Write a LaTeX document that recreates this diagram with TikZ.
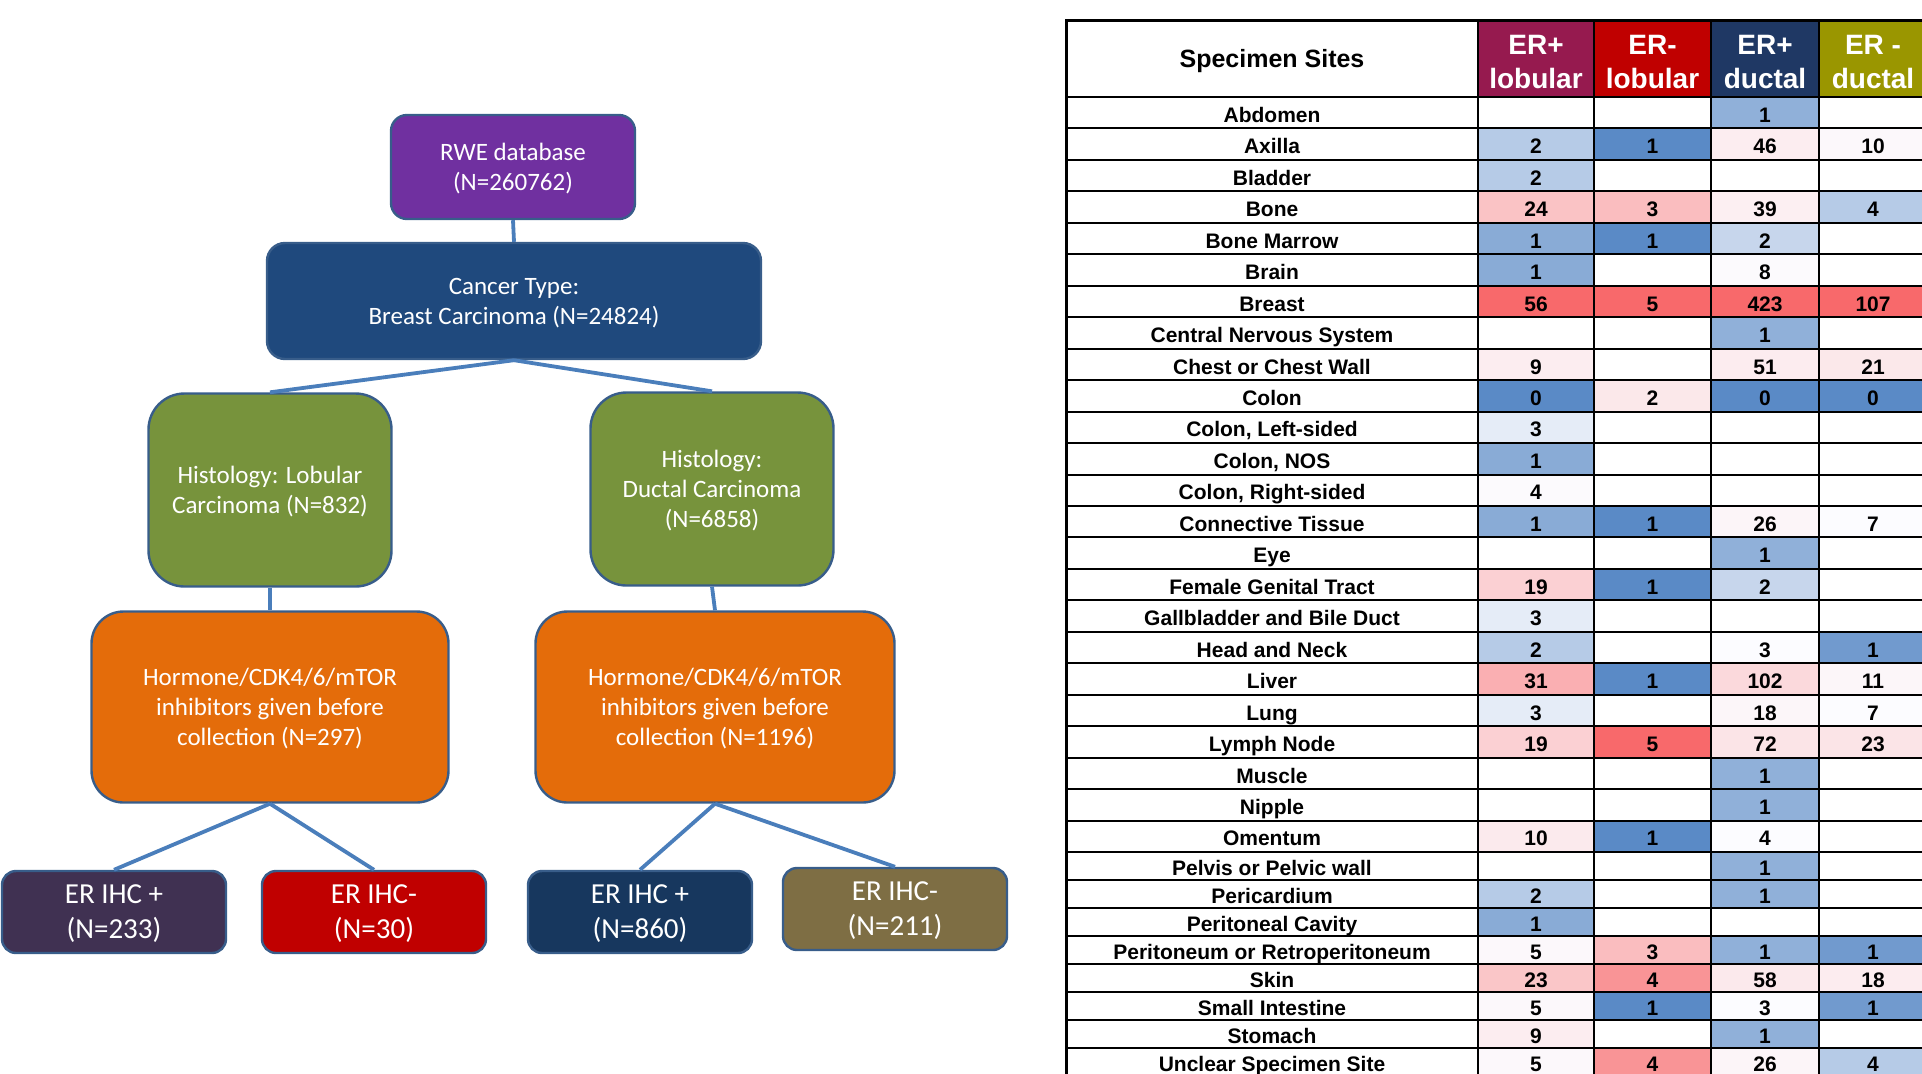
\documentclass[tikz,border=0pt]{standalone}
\usepackage{fontspec}
\setmainfont{Carlito}
\newfontfamily\tabfont{Liberation Sans}
\definecolor{rwec}{HTML}{7030A0}
\definecolor{cancerc}{HTML}{1F497D}
\definecolor{histc}{HTML}{77933C}
\definecolor{orangec}{HTML}{E46C0A}
\definecolor{erposA}{HTML}{403152}
\definecolor{ernegA}{HTML}{C00000}
\definecolor{erposB}{HTML}{17375E}
\definecolor{ernegB}{HTML}{7E6E44}
\definecolor{bordc}{HTML}{385D8A}
\definecolor{linec}{HTML}{4A7EBB}
\definecolor{hA}{HTML}{961A4F}
\definecolor{hB}{HTML}{C00000}
\definecolor{hC}{HTML}{1F3864}
\definecolor{hD}{HTML}{9A9600}
\definecolor{xb}{HTML}{5A8AC6}
\definecolor{xw}{HTML}{FCFCFF}
\definecolor{xr}{HTML}{F8696B}
\def\nocell{-}

\begin{document}
\begin{tikzpicture}[x=0.5pt,y=-0.5pt,
  main box/.style={draw=bordc,line width=1.2pt,text=white,align=center,text depth=-1pt,font=\fontsize{12.5}{15}\selectfont},
  er box/.style={main box,rounded corners=7pt,minimum width=112pt,minimum height=41pt,font=\fontsize{14.5}{17.5}\selectfont},
  link/.style={draw=linec,line width=1.9pt},
  cell/.style={inner sep=0pt,text height=7.6pt,text depth=2pt,yshift=-2pt,font=\tabfont\bfseries\fontsize{10.5}{12}\selectfont},
  hdr/.style={inner sep=0pt,align=center,font=\tabfont\bfseries\fontsize{14}{17}\selectfont},
  grid line/.style={line width=1pt}]

  \useasboundingbox (0,0) rectangle (1922,1073);
  \clip (0,0) rectangle (1922,1073);

  \node[main box,fill=rwec,rounded corners=8pt,minimum width=122pt,minimum height=52pt] (1) at (513,167) {RWE database\\(N=260762)};
  \node[main box,fill=cancerc,rounded corners=9pt,minimum width=247pt,minimum height=58pt] (2) at (514,301) {Cancer Type:\\Breast Carcinoma (N=24824)};
  \node[main box,fill=histc,rounded corners=18pt,minimum width=121.5pt,minimum height=96.5pt] (3) at (270,490) {Histology: Lobular\\Carcinoma (N=832)};
  \node[main box,fill=histc,rounded corners=18pt,minimum width=121.5pt,minimum height=96.5pt] (4) at (712,489) {Histology:\\Ductal Carcinoma\\(N=6858)};
  \node[main box,fill=orangec,rounded corners=16pt,minimum width=178.5pt,minimum height=95.5pt] (5) at (270,707) {Hormone/CDK4/6/mTOR\\inhibitors given before\\collection (N=297)};
  \node[main box,fill=orangec,rounded corners=16pt,minimum width=179.5pt,minimum height=95.5pt] (6) at (715,707) {Hormone/CDK4/6/mTOR\\inhibitors given before\\collection (N=1196)};
  \node[er box,fill=erposA] (7) at (114,912) {ER IHC +\\(N=233)};
  \node[er box,fill=ernegA] (8) at (374,912) {ER IHC-\\(N=30)};
  \node[er box,fill=erposB] (9) at (640,912) {ER IHC +\\(N=860)};
  \node[er box,fill=ernegB] (10) at (895,909) {ER IHC-\\(N=211)};

  \path[link]
    (1.south) edge (2.north)
    (2.south) edge (3.north)
    (2.south) edge (4.north)
    (3.south) edge (5.north)
    (4.south) edge (6.north)
    (5.south) edge (7.north)
    (5.south) edge (8.north)
    (6.south) edge (9.north)
    (6.south) edge (10.north);

  \node[hdr,font=\tabfont\bfseries\fontsize{12.5}{15}\selectfont] (sites) at (1272,61) {Specimen Sites};
  \foreach \xa/\xb/\hc/\htxt [count=\k] in {1478/1594/hA/{ER+\\lobular},1594/1711/hB/{ER-\\lobular},1711/1819/hC/{ER+\\ductal},1819/1927/hD/{ER -\\ductal}}{
    \fill[\hc] (\xa,20) rectangle (\xb,97);
    \node[hdr,text=white] (h\k) at ({(\xa+\xb)/2},61.5) {\htxt};
  }

  \foreach \site/\va/\vb/\vc/\vd [count=\row] in {
    Abdomen/-/-/1/-,
    Axilla/2/1/46/10,
    Bladder/2/-/-/-,
    Bone/24/3/39/4,
    Bone Marrow/1/1/2/-,
    Brain/1/-/8/-,
    Breast/56/5/423/107,
    Central Nervous System/-/-/1/-,
    Chest or Chest Wall/9/-/51/21,
    Colon/0/2/0/0,
    {Colon, Left-sided}/3/-/-/-,
    {Colon, NOS}/1/-/-/-,
    {Colon, Right-sided}/4/-/-/-,
    Connective Tissue/1/1/26/7,
    Eye/-/-/1/-,
    Female Genital Tract/19/1/2/-,
    Gallbladder and Bile Duct/3/-/-/-,
    Head and Neck/2/-/3/1,
    Liver/31/1/102/11,
    Lung/3/-/18/7,
    Lymph Node/19/5/72/23,
    Muscle/-/-/1/-,
    Nipple/-/-/1/-,
    Omentum/10/1/4/-,
    Pelvis or Pelvic wall/-/-/1/-,
    Pericardium/2/-/1/-,
    Peritoneal Cavity/1/-/-/-,
    Peritoneum or Retroperitoneum/5/3/1/1,
    Skin/23/4/58/18,
    Small Intestine/5/1/3/1,
    Stomach/9/-/1/-,
    Unclear Specimen Site/5/4/26/4}{
    \pgfmathsetmacro\yt{\row<25 ? 97+(\row-1)*31.46 : 852+(\row-25)*28}
    \pgfmathsetmacro\yb{\row<25 ? \yt+31.46 : \yt+28}
    \node[cell] (s\row) at (1272,{(\yt+\yb)/2}) {\site};
    \foreach \val [count=\col from 0] in {\va,\vb,\vc,\vd}{
      \edef\vv{\val}
      \ifx\vv\nocell\else
        \pgfmathsetmacro\xa{{1478,1594,1711,1819,1927}[\col]}
        \pgfmathsetmacro\xb{{1478,1594,1711,1819,1927}[\col+1]}
        \pgfmathsetmacro\lov{{0,1,0,0}[\col]}
        \pgfmathsetmacro\midv{{3.5,1.5,3,7}[\col]}
        \pgfmathsetmacro\hiv{{56,5,423,107}[\col]}
        \pgfmathtruncatemacro\pb{max(0,round((\midv-\vv)/(\midv-\lov)*100))}
        \pgfmathtruncatemacro\pr{max(0,round((\vv-\midv)/(\hiv-\midv)*100))}
        \ifnum\pb>0 \colorlet{cellc}{xb!\pb!xw}\else\colorlet{cellc}{xr!\pr!xw}\fi
        \fill[cellc] (\xa,\yt) rectangle (\xb,\yb);
        \node[cell] (v\row-\col) at ({(\xa+\xb)/2},{(\yt+\yb)/2}) {\vv};
      \fi
    }
  }

  \foreach \k in {0,...,32}{
    \pgfmathsetmacro\yy{\k<25 ? 97+\k*31.46 : 852+(\k-24)*28}
    \draw[grid line] (1066,\yy) -- (1927,\yy);
  }
  \foreach \xx in {1478,1594,1711,1819}
    \draw[grid line] (\xx,20) -- (\xx,1076);
  \draw[line width=1.5pt] (1927,20) -- (1066,20) -- (1066,1076);
\end{tikzpicture}
\end{document}
